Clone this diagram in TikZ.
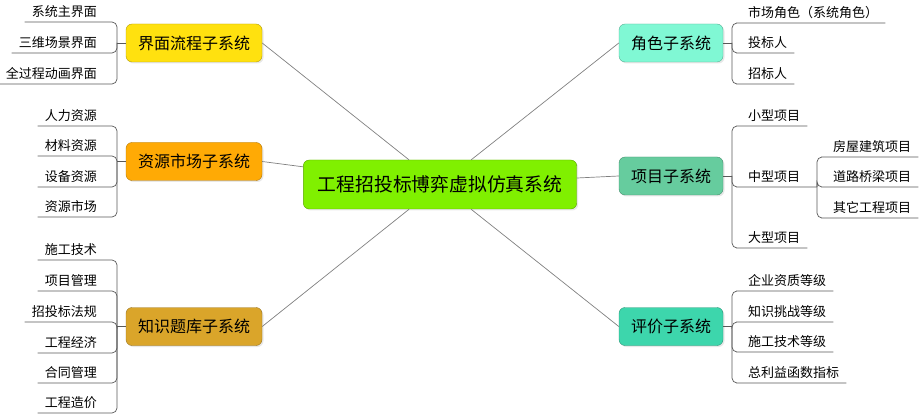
\documentclass[tikz,border=0pt]{standalone}
\usepackage{fontspec}
\setmainfont{Noto Sans CJK SC}
\usetikzlibrary{shadows}
\definecolor{rootgreen}{HTML}{80F000}
\definecolor{uiyellow}{HTML}{FFE10F}
\definecolor{resorange}{HTML}{FFAA05}
\definecolor{kbgold}{HTML}{DAA52A}
\definecolor{rolemint}{HTML}{80F8D4}
\definecolor{projgreen}{HTML}{66CC9E}
\definecolor{evalteal}{HTML}{3DD6AC}

\begin{document}
\begin{tikzpicture}[
            x=1pt, y=-1pt,
            box/.style={draw=#1!70!black, fill=#1, rounded corners=6pt, inner xsep=12pt,
                minimum height=38pt, font=\fontsize{16}{16}\selectfont,
                drop shadow={opacity=0.18, shadow xshift=1.5pt, shadow yshift=-1.5pt}},
            leaf/.style={inner xsep=7pt, inner ysep=3pt, text height=9pt, text depth=2.5pt,
                font=\fontsize{13}{13}\selectfont},
            link/.style={draw=black!50, line width=0.7pt},
            tree/.style={draw=black!65, line width=0.7pt, rounded corners=5pt}
        ]
            \useasboundingbox (0,0) rectangle (922,417);

            % centre and sub systems
            \node [box=rootgreen, inner xsep=14.5pt, minimum height=49pt, font=\fontsize{18.8}{18.8}\selectfont] (root) at (440,184.5) {工程招投标博弈虚拟仿真系统};
            \node [box=uiyellow] (ui) at (194,43) {界面流程子系统};
            \node [box=resorange] (res) at (194,161.5) {资源市场子系统};
            \node [box=kbgold] (kb) at (194,326.5) {知识题库子系统};
            \node [box=rolemint] (role) at (671,43) {角色子系统};
            \node [box=projgreen] (proj) at (671,176) {项目子系统};
            \node [box=evalteal] (eval) at (671,326.5) {评价子系统};

            \draw [link] (ui.east) -- (root);
            \draw [link] (res.east) -- (root);
            \draw [link] (kb.east) -- (root);
            \draw [link] (role.west) -- (root);
            \draw [link] (proj.west) -- (root);
            \draw [link] (eval.west) -- (root);

            % left leaves
            \coordinate (ui-j) at (117,43);
            \node [leaf, anchor=south east] (ui1) at (104,22) {系统主界面};
            \node [leaf, anchor=south east] (ui2) at (104,53) {三维场景界面};
            \node [leaf, anchor=south east] (ui3) at (104,84) {全过程动画界面};
            \draw [tree] (ui.west) -- (ui-j);
            \draw [tree] (ui-j) |- (ui1.south east) -- (ui1.south west);
            \draw [tree] (ui-j) |- (ui2.south east) -- (ui2.south west);
            \draw [tree] (ui-j) |- (ui3.south east) -- (ui3.south west);

            \coordinate (res-j) at (117,161.5);
            \node [leaf, anchor=south east] (res1) at (104,126) {人力资源};
            \node [leaf, anchor=south east] (res2) at (104,156) {材料资源};
            \node [leaf, anchor=south east] (res3) at (104,187) {设备资源};
            \node [leaf, anchor=south east] (res4) at (104,217) {资源市场};
            \draw [tree] (res.west) -- (res-j);
            \draw [tree] (res-j) |- (res1.south east) -- (res1.south west);
            \draw [tree] (res-j) |- (res2.south east) -- (res2.south west);
            \draw [tree] (res-j) |- (res3.south east) -- (res3.south west);
            \draw [tree] (res-j) |- (res4.south east) -- (res4.south west);

            \coordinate (kb-j) at (117,326.5);
            \node [leaf, anchor=south east] (kb1) at (104,260) {施工技术};
            \node [leaf, anchor=south east] (kb2) at (104,291) {项目管理};
            \node [leaf, anchor=south east] (kb3) at (104,322) {招投标法规};
            \node [leaf, anchor=south east] (kb4) at (104,353) {工程经济};
            \node [leaf, anchor=south east] (kb5) at (104,383) {合同管理};
            \node [leaf, anchor=south east] (kb6) at (104,413) {工程造价};
            \draw [tree] (kb.west) -- (kb-j);
            \draw [tree] (kb-j) |- (kb1.south east) -- (kb1.south west);
            \draw [tree] (kb-j) |- (kb2.south east) -- (kb2.south west);
            \draw [tree] (kb-j) |- (kb3.south east) -- (kb3.south west);
            \draw [tree] (kb-j) |- (kb4.south east) -- (kb4.south west);
            \draw [tree] (kb-j) |- (kb5.south east) -- (kb5.south west);
            \draw [tree] (kb-j) |- (kb6.south east) -- (kb6.south west);

            % right leaves
            \coordinate (role-j) at (732,43);
            \node [leaf, anchor=south west] (role1) at (741,23) {市场角色（系统角色）};
            \node [leaf, anchor=south west] (role2) at (741,53) {投标人};
            \node [leaf, anchor=south west] (role3) at (741,84) {招标人};
            \draw [tree] (role.east) -- (role-j);
            \draw [tree] (role-j) |- (role1.south west) -- (role1.south east);
            \draw [tree] (role-j) |- (role2.south west) -- (role2.south east);
            \draw [tree] (role-j) |- (role3.south west) -- (role3.south east);

            \coordinate (proj-j) at (732,176);
            \coordinate (mid-j) at (817,187);
            \node [leaf, anchor=south west] (proj1) at (741,126) {小型项目};
            \node [leaf, anchor=south west] (proj2) at (741,187) {中型项目};
            \node [leaf, anchor=south west] (proj3) at (741,248) {大型项目};
            \node [leaf, anchor=south west] (mid1) at (826,157) {房屋建筑项目};
            \node [leaf, anchor=south west] (mid2) at (826,187) {道路桥梁项目};
            \node [leaf, anchor=south west] (mid3) at (826,218) {其它工程项目};
            \draw [tree] (proj.east) -- (proj-j);
            \draw [tree] (proj-j) |- (proj1.south west) -- (proj1.south east);
            \draw [tree] (proj-j) |- (proj2.south west) -- (mid-j);
            \draw [tree] (proj-j) |- (proj3.south west) -- (proj3.south east);
            \draw [tree] (mid-j) |- (mid1.south west) -- (mid1.south east);
            \draw [tree] (mid-j) |- (mid2.south west) -- (mid2.south east);
            \draw [tree] (mid-j) |- (mid3.south west) -- (mid3.south east);

            \coordinate (eval-j) at (732,326.5);
            \node [leaf, anchor=south west] (eval1) at (741,291) {企业资质等级};
            \node [leaf, anchor=south west] (eval2) at (741,322) {知识挑战等级};
            \node [leaf, anchor=south west] (eval3) at (741,352) {施工技术等级};
            \node [leaf, anchor=south west] (eval4) at (741,383) {总利益函数指标};
            \draw [tree] (eval.east) -- (eval-j);
            \draw [tree] (eval-j) |- (eval1.south west) -- (eval1.south east);
            \draw [tree] (eval-j) |- (eval2.south west) -- (eval2.south east);
            \draw [tree] (eval-j) |- (eval3.south west) -- (eval3.south east);
            \draw [tree] (eval-j) |- (eval4.south west) -- (eval4.south east);
        \end{tikzpicture}
\end{document}
